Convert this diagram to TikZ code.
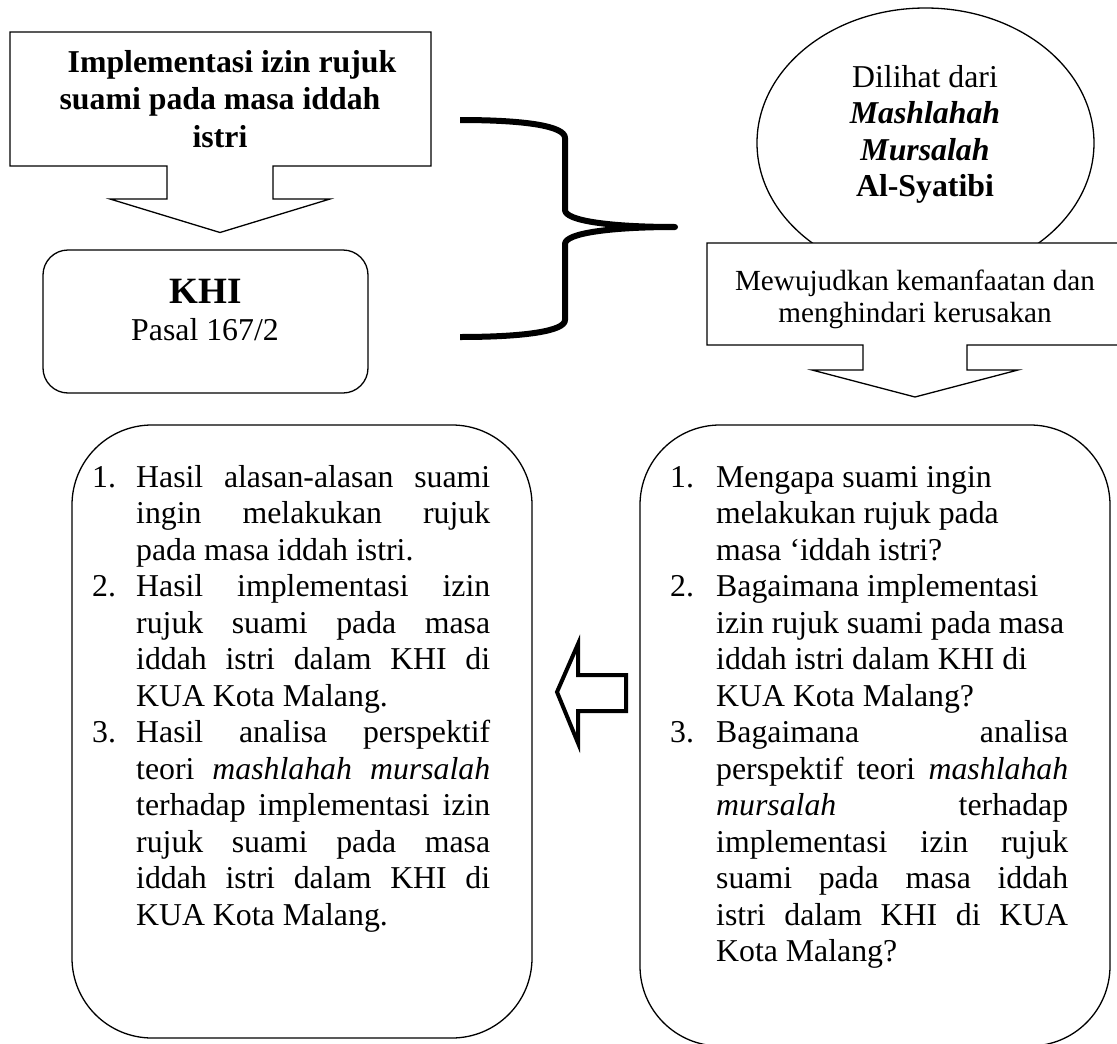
\documentclass[tikz,border=0pt]{standalone}
\usepackage{fontspec}
\setmainfont{Liberation Serif}
\hbadness=10000 \hfuzz=60pt \tolerance=10000 \pretolerance=-1 \hyphenpenalty=10000
\begin{document}
\begin{tikzpicture}[x=1pt,y=-1pt,
  thinline/.style={line width=1.3pt},
  callout/.style={thinline, fill=white, line join=miter},
  txt/.style={inner sep=0pt, font=\fontsize{31.8}{36.5}\selectfont},
  bigtxt/.style={inner sep=0pt, font=\fontsize{37.1}{42}\selectfont\bfseries},
  smalltxt/.style={inner sep=0pt, font=\fontsize{29.2}{32.3}\selectfont},
  titletxt/.style={inner sep=0pt, font=\fontsize{31.8}{37.5}\selectfont\bfseries, anchor=base},
  listbox/.style={txt, text width=398pt, align=justify, anchor=base west},
  roundbox/.style={thinline, rounded corners=80pt},
  bracestyle/.style={line width=6pt, line join=round, line cap=butt},
  hollowarrow/.style={line width=4pt, line join=miter, fill=white}]
\useasboundingbox (0,0) rectangle (1117,1044);
\begin{scope}
\clip (0,0) rectangle (1117,1044);

% top-left callout
\draw[callout] (10,32) -- (431,32) -- (431,166) -- (273,166) -- (273,199) -- (330,199)
  -- (220,232.5) -- (110,199) -- (167,199) -- (167,166) -- (10,166) -- cycle;
\node[titletxt] (title1) at (232,72) {Implementasi izin rujuk};
\node[titletxt] (title2) at (220,109.5) {suami pada masa iddah};
\node[titletxt] (title3) at (220,147) {istri};

% KHI box
\draw[thinline, rounded corners=25pt] (43,250) rectangle (368,393);
\node[bigtxt, anchor=base] (khi) at (206,303) {KHI};
\node[txt, anchor=base] (pasal) at (205,340) {Pasal 167/2};

% brace
\draw[bracestyle] (460,120) .. controls (525,120) and (565,126) .. (565,138)
  -- (565,210) .. controls (565,221) and (612,227) .. (675,227)
  .. controls (612,227) and (565,233) .. (565,244)
  -- (565,320) .. controls (565,331) and (525,337) .. (460,337);

% ellipse
\draw[thinline] (925.5,143) ellipse [x radius=168.5, y radius=135];
\node[txt, anchor=base] (dilihat) at (925,87) {Dilihat dari};
\node[txt, anchor=base] (mashlahah) at (925,123.5) {\bfseries\itshape Mashlahah};
\node[txt, anchor=base] (mursalah) at (925,160) {\bfseries\itshape Mursalah};
\node[txt, anchor=base] (syatibi) at (925,196.5) {\bfseries Al-Syatibi};

% right callout
\draw[callout] (707,243) -- (1130,243) -- (1130,345) -- (967,345) -- (967,370) -- (1018,370)
  -- (915,397) -- (812,370) -- (863,370) -- (863,345) -- (707,345) -- cycle;
\node[smalltxt, anchor=base] (mewujudkan) at (915,290) {Mewujudkan kemanfaatan dan};
\node[smalltxt, anchor=base] (menghindari) at (915,322) {menghindari kerusakan};

% bottom boxes
\draw[roundbox] (72,425) rectangle (532,1038);
\draw[roundbox] (640,425) rectangle (1110,1046);

% hollow arrow
\draw[hollowarrow] (626,675) -- (578,675) -- (578,644) -- (557,692) -- (578,743)
  -- (578,711) -- (626,711) -- cycle;

% left list
\node[listbox] (leftlist) at (92,487) {%
{\hangindent=44pt\hangafter=1\noindent\makebox[44pt][l]{1.}Hasil alasan-alasan suami\linebreak
ingin melakukan rujuk\linebreak pada masa iddah istri.\par}%
{\hangindent=44pt\hangafter=1\noindent\makebox[44pt][l]{2.}Hasil implementasi izin\linebreak
rujuk suami pada masa\linebreak iddah istri dalam KHI di\linebreak KUA Kota Malang.\par}%
{\hangindent=44pt\hangafter=1\noindent\makebox[44pt][l]{3.}Hasil analisa perspektif\linebreak
teori \textit{mashlahah mursalah}\linebreak terhadap implementasi izin\linebreak
rujuk suami pada masa\linebreak iddah istri dalam KHI di\linebreak KUA Kota Malang.\par}};

% right list
\node[listbox] (rightlist) at (670,487) {%
{\rightskip=0pt plus 1fil\hangindent=46pt\hangafter=1\noindent\makebox[46pt][l]{1.}Mengapa suami ingin\linebreak
melakukan rujuk pada\linebreak masa ‘iddah istri?\par}%
{\rightskip=0pt plus 1fil\hangindent=46pt\hangafter=1\noindent\makebox[46pt][l]{2.}Bagaimana implementasi\linebreak
izin rujuk suami pada~masa\linebreak iddah istri dalam KHI di\linebreak KUA Kota Malang?\par}%
{\hangindent=46pt\hangafter=1\noindent\makebox[46pt][l]{3.}Bagaimana analisa\linebreak
perspektif teori \textit{mashlahah}\linebreak \textit{mursalah} terhadap\linebreak
implementasi izin rujuk\linebreak suami pada masa iddah\linebreak istri dalam KHI di KUA\linebreak
Kota Malang?\par}};
\end{scope}
\end{tikzpicture}
\end{document}
